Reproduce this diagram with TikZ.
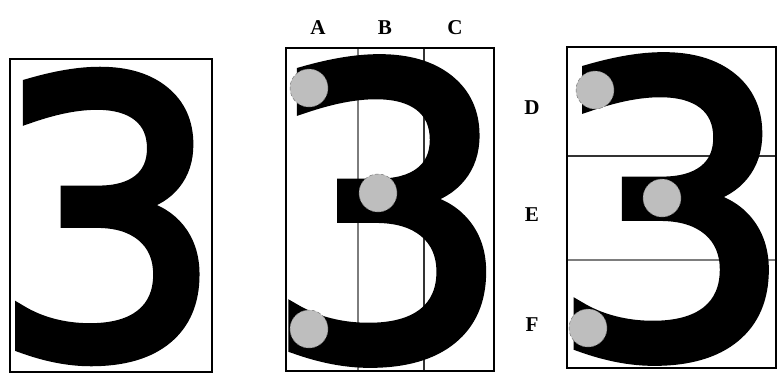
\documentclass[tikz,border=0pt]{standalone}
\usepackage{fontspec}
\usepackage{graphicx}
\setmainfont{Liberation Serif}
\newfontfamily\digitfont{DejaVu Sans}[FakeBold=3]
\definecolor{dotgray}{RGB}{190,190,190}
\definecolor{rulegray}{RGB}{125,125,125}

\newcommand{\bigthree}[2]{\resizebox*{#1}{#2}{\digitfont 3}}

\begin{document}
\begin{tikzpicture}[x=0.03cm, y=-0.03cm,
    dot/.style={circle, draw=black!55, densely dashed, thin, fill=dotgray, minimum size=1.14cm, inner sep=0pt},
    lbl/.style={font=\fontsize{18}{20}\selectfont\bfseries, inner sep=0pt},
    glyph/.style={inner sep=0pt, outer sep=0pt}]

  \useasboundingbox (0,0) rectangle (781,383);

  % Plain digit
  \node[glyph] (threeA) at (108,216.5) {\bigthree{6.9cm}{8.64cm}};
  \draw[line width=2pt] (10,59) rectangle (212,372);

  % Digit split in columns
  \draw[line width=1.6pt, rulegray] (358,48) -- (358,371);
  \draw[line width=1.6pt, black!80] (424,48) -- (424,371);
  \node[glyph] (threeB) at (388,211) {\bigthree{7.4cm}{9.05cm}};
  \draw[line width=2pt] (286,48) rectangle (494,371);

  \node[dot] (dotA) at (309,88) {};
  \node[dot] (dotB) at (378,193) {};
  \node[dot] (dotC) at (309,329) {};

  \node[lbl] (labA) at (318,28) {A};
  \node[lbl] (labB) at (385,28) {B};
  \node[lbl] (labC) at (455,28) {C};

  % Digit split in rows
  \draw[line width=1.6pt, black!80] (567,156) -- (776,156);
  \draw[line width=1.6pt, rulegray] (567,260) -- (776,260);
  \node[glyph] (threeC) at (672,209) {\bigthree{7.3cm}{9.05cm}};
  \draw[line width=2pt] (567,47) rectangle (776,368);

  \node[dot] (dotD) at (595,90) {};
  \node[dot] (dotE) at (662,198) {};
  \node[dot] (dotF) at (588,328) {};

  \node[lbl] (labD) at (532,108) {D};
  \node[lbl] (labE) at (532,215) {E};
  \node[lbl] (labF) at (532,325) {F};
\end{tikzpicture}
\end{document}
